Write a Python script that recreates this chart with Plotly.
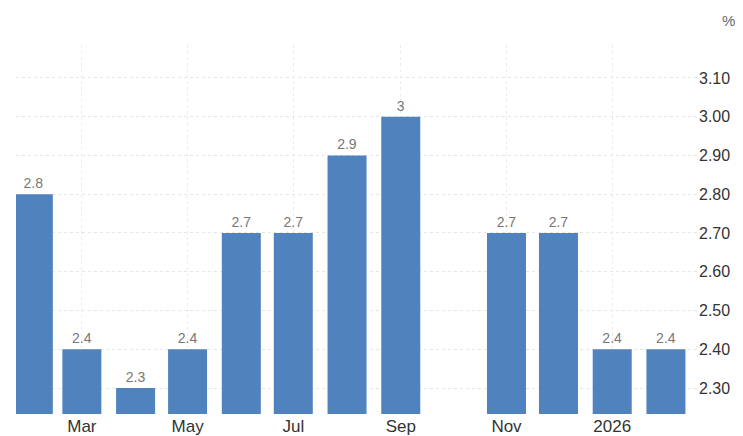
import plotly.graph_objects as go

months = ['2025-02-01', '2025-03-01', '2025-04-01', '2025-05-01', '2025-06-01', '2025-07-01',
          '2025-08-01', '2025-09-01', '2025-11-01', '2025-12-01', '2026-01-01', '2026-02-01']
values = [2.8, 2.4, 2.3, 2.4, 2.7, 2.7, 2.9, 3.0, 2.7, 2.7, 2.4, 2.4]
labels = ['2.8', '2.4', '2.3', '2.4', '2.7', '2.7', '2.9', '3', '2.7', '2.7', '2.4', '2.4']
tick_dates = ['2025-03-01', '2025-05-01', '2025-07-01', '2025-09-01', '2025-11-01', '2026-01-01']
tick_text = ['Mar', 'May', 'Jul', 'Sep', 'Nov', '2026']
y_ticks = [2.3, 2.4, 2.5, 2.6, 2.7, 2.8, 2.9, 3.0, 3.1]

fig = go.Figure(go.Bar(
    x=months, y=values, text=labels, textposition='outside',
    textfont=dict(color='#777777', size=14), cliponaxis=False,
    marker=dict(color='#5082be', line=dict(width=0)), width=22.5 * 24 * 3600 * 1000,
))

fig.add_annotation(text='%', xref='paper', yref='paper', x=1.045, y=1.095,
                   showarrow=False, font=dict(color='#666666', size=15), xanchor='center')

fig.update_layout(
    width=743, height=436,
    margin=dict(l=8, r=53, t=37, b=27),
    plot_bgcolor='white', paper_bgcolor='white',
    font=dict(family='Arial, Liberation Sans', size=15, color='#333333'),
    showlegend=False,
    xaxis=dict(range=['2025-01-22', '2026-02-19 12:00'], tickvals=tick_dates, ticktext=tick_text,
               showgrid=True, gridcolor='#ececec', griddash='dot', ticks='', showline=False,
               tickfont=dict(size=17, color='#333333')),
    yaxis=dict(side='right', range=[2.233, 3.185], tickvals=y_ticks, tickformat='.2f',
               showgrid=True, gridcolor='#e6e6e6', griddash='dot', zeroline=False,
               tickfont=dict(size=16, color='#333333'), ticks=''),
)

fig.write_html('out.html')
